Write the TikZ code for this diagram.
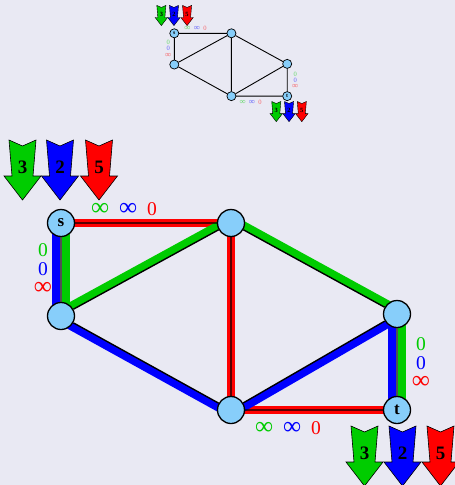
\documentclass[tikz,border=0pt]{standalone}
\usepackage{fontspec}
\setmainfont{Liberation Serif}
\usepackage{xcolor}
\usepackage{graphicx}
\usetikzlibrary{calc,backgrounds}
\definecolor{pagebg}{HTML}{E9E9F3}
\definecolor{vertexfill}{HTML}{87CEFA}
\definecolor{flowgreen}{HTML}{00CC00}
\definecolor{flowblue}{HTML}{0000FF}
\definecolor{flowred}{HTML}{FF0000}
\newcommand{\flowinf}{\scalebox{1.3}[1.3]{∞}}
\tikzset{
  vertex/.style={circle,draw=black,line width=1.3pt,fill=vertexfill,minimum size=27pt,
    inner sep=0pt,font=\bfseries\fontsize{17}{17}\selectfont},
  netedge/.style={draw=black,line width=1.4pt},
  flow/.style={line width=8pt},
  flowlabel/.style={font=\fontsize{19.5}{18.8}\selectfont,inner sep=0pt,align=center},
  demandarrow/.style={draw=black,line width=0.6pt,line join=miter},
  demandnum/.style={font=\bfseries\fontsize{19}{19}\selectfont,inner sep=0pt},
  pics/demand/.style 2 args={code={
    \draw[demandarrow,fill=#1] (-13.5,0) -- (0,6) -- (13.5,0) -- (10.5,36) -- (18.5,36)
      -- (0,60) -- (-18.5,36) -- (-10.5,36) -- cycle;
    \node[demandnum] (-num) at (0,27) {#2};
  }}
}

\begin{document}
\begin{tikzpicture}[x=1pt,y=-1pt]
  \begin{pgfonlayer}{background}
    \fill[pagebg] (0,0) rectangle (455,485);
  \end{pgfonlayer}
  \useasboundingbox (0,0) rectangle (455,485);

  % small overview of the network
  \begin{scope}[shift={(174.3,33.3)},scale=0.336,shift={(-61,-223)},transform shape,
      vertex/.append style={line width=0.7pt},netedge/.append style={line width=0.9pt},
      demandarrow/.append style={line width=0.4pt},flowlabel/.append style={text opacity=0.55}]
    \node[vertex] (ms) at (61,223) {s};
    \node[vertex] (ma) at (231,223) {};
    \node[vertex] (mb) at (61,316) {};
    \node[vertex] (mc) at (231,410) {};
    \node[vertex] (md) at (397,314) {};
    \node[vertex] (mt) at (397,410) {t};
    \draw[netedge] (ms) -- (ma) (ms) -- (mb) (mb) -- (ma) (ma) -- (mc) (mb) -- (mc)
      (ma) -- (md) (mc) -- (md) (md) -- (mt) (mc) -- (mt);
    \node[flowlabel,anchor=base] (mlab-sa) at (124,215)
      {\textcolor{flowgreen}{\flowinf}\hspace{10pt}\textcolor{flowblue}{\flowinf}\hspace{10pt}\textcolor{flowred}{0}};
    \node[flowlabel,anchor=north] (mlab-sb) at (43,243.5)
      {\textcolor{flowgreen}{0}\\\textcolor{flowblue}{0}\\\textcolor{flowred}{\flowinf}};
    \node[flowlabel,anchor=north] (mlab-dt) at (421,337.5)
      {\textcolor{flowgreen}{0}\\\textcolor{flowblue}{0}\\\textcolor{flowred}{\flowinf}};
    \node[flowlabel,anchor=base] (mlab-ct) at (288,434.5)
      {\textcolor{flowgreen}{\flowinf}\hspace{10pt}\textcolor{flowblue}{\flowinf}\hspace{10pt}\textcolor{flowred}{0}};
    \pic (mds3) at (22.5,140) {demand={flowgreen}{3}};
    \pic (mds2) at (60,140) {demand={flowblue}{2}};
    \pic (mds5) at (99,140) {demand={flowred}{5}};
    \pic (mdt3) at (364.5,426) {demand={flowgreen}{3}};
    \pic (mdt2) at (402.5,426) {demand={flowblue}{2}};
    \pic (mdt5) at (440.5,426) {demand={flowred}{5}};
  \end{scope}

  % the network with its three commodities
  \node[vertex] (s) at (61,223) {s};
  \node[vertex] (a) at (231,223) {};
  \node[vertex] (b) at (61,316) {};
  \node[vertex] (c) at (231,410) {};
  \node[vertex] (d) at (397,314) {};
  \node[vertex] (t) at (397,410) {t};

  \begin{pgfonlayer}{background}
    \draw[flow,flowred] (s.center) -- (a.center) -- (c.center) -- (t.center);
    \draw[flow,flowgreen] ($(s)!5pt!90:(b)$) -- ($(b)!5pt!-90:(s)$);
    \draw[flow,flowblue] ($(s)!5pt!-90:(b)$) -- ($(b)!5pt!90:(s)$);
    \draw[flow,flowgreen] ($(b)!4pt!90:(a)$) -- ($(a)!4pt!-90:(b)$);
    \draw[flow,flowblue] ($(b)!4pt!-90:(c)$) -- ($(c)!4pt!90:(b)$);
    \draw[flow,flowgreen] ($(a)!4pt!90:(d)$) -- ($(d)!4pt!-90:(a)$);
    \draw[flow,flowblue] ($(c)!4pt!-90:(d)$) -- ($(d)!4pt!90:(c)$);
    \draw[flow,flowgreen] ($(d)!5pt!90:(t)$) -- ($(t)!5pt!-90:(d)$);
    \draw[flow,flowblue] ($(d)!5pt!-90:(t)$) -- ($(t)!5pt!90:(d)$);
  \end{pgfonlayer}
  \draw[netedge] (s) -- (a) (s) -- (b) (b) -- (a) (a) -- (c) (b) -- (c)
    (a) -- (d) (c) -- (d) (d) -- (t) (c) -- (t);

  \node[flowlabel,anchor=base] (lab-sa) at (124,215)
    {\textcolor{flowgreen}{\flowinf}\hspace{10pt}\textcolor{flowblue}{\flowinf}\hspace{10pt}\textcolor{flowred}{0}};
  \node[flowlabel,anchor=north] (lab-sb) at (43,243.5)
    {\textcolor{flowgreen}{0}\\\textcolor{flowblue}{0}\\\textcolor{flowred}{\flowinf}};
  \node[flowlabel,anchor=north] (lab-dt) at (421,337.5)
    {\textcolor{flowgreen}{0}\\\textcolor{flowblue}{0}\\\textcolor{flowred}{\flowinf}};
  \node[flowlabel,anchor=base] (lab-ct) at (288,434.5)
    {\textcolor{flowgreen}{\flowinf}\hspace{10pt}\textcolor{flowblue}{\flowinf}\hspace{10pt}\textcolor{flowred}{0}};

  % demands at the source and the sink
  \pic (ds3) at (22.5,140) {demand={flowgreen}{3}};
  \pic (ds2) at (60,140) {demand={flowblue}{2}};
  \pic (ds5) at (99,140) {demand={flowred}{5}};
  \pic (dt3) at (364.5,426) {demand={flowgreen}{3}};
  \pic (dt2) at (402.5,426) {demand={flowblue}{2}};
  \pic (dt5) at (440.5,426) {demand={flowred}{5}};
\end{tikzpicture}
\end{document}
